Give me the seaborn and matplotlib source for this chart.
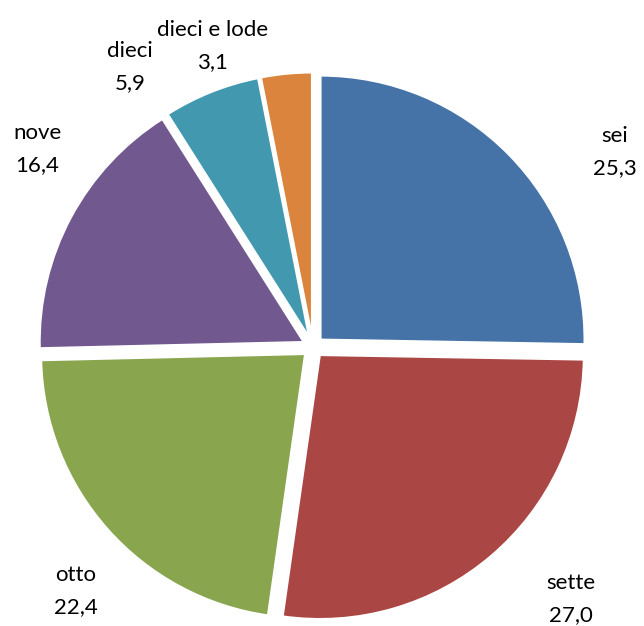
import numpy as np
import matplotlib
matplotlib.use("Agg")
import matplotlib.pyplot as plt
import seaborn as sns

categories = ["sei", "sette", "otto", "nove", "dieci", "dieci e lode"]
values = [25.3, 27.0, 22.4, 16.4, 5.9, 3.1]
colors = ["#4572A7", "#AA4643", "#89A54E", "#71588F", "#4198AF", "#DB843D"]

sns.set_theme(style="white")
plt.rcParams['font.family'] = ['Lato', 'DejaVu Sans']

W, H = 644, 626
fig = plt.figure(figsize=(W / 100, H / 100), dpi=100)
R = 264.0
cx, cy = 313.0, 347.0
half = 1.22
ax = fig.add_axes([(cx - half * R) / W, (H - cy - half * R) / H, 2 * half * R / W, 2 * half * R / H])
ax.set_xlim(-half, half)
ax.set_ylim(-half, half)
ax.set_aspect('equal')
ax.axis('off')

wedges, _ = ax.pie(values, colors=colors, startangle=90, counterclock=False,
                   explode=[0.04] * len(values), radius=1.0,
                   wedgeprops=dict(edgecolor='white', linewidth=1.5))
ax.set_xlim(-half, half)
ax.set_ylim(-half, half)

dist = [1.362, 1.366, 1.289, 1.286, 1.266, 1.203]
angoff = [-11.6, 5.1, 4.2, -7.5, 11.4, 12.8]
for w, cat, v, d, off in zip(wedges, categories, values, dist, angoff):
    mid = np.deg2rad((w.theta1 + w.theta2) / 2 + off)
    txt = f"{cat}\n{v:.1f}".replace('.', ',')
    ax.text(d * np.cos(mid), d * np.sin(mid), txt, ha='center', va='center',
            fontsize=16, color='black', linespacing=1.75, clip_on=False)

fig.savefig("out.png", dpi=100, facecolor='white')
